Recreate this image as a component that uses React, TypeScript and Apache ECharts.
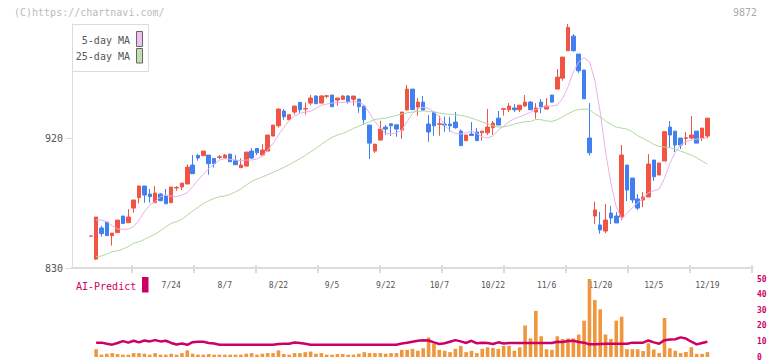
import React, { useEffect, useRef } from 'react';
import * as echarts from 'echarts';

const dates = [
  '7/2','7/3','7/4','7/7','7/8','7/9','7/10','7/11','7/14','7/15',
  '7/16','7/17','7/18','7/22','7/23','7/24','7/25','7/28','7/29','7/30',
  '7/31','8/1','8/4','8/5','8/6','8/7','8/8','8/12','8/13','8/14',
  '8/15','8/18','8/19','8/20','8/21','8/22','8/25','8/26','8/27','8/28',
  '8/29','9/1','9/2','9/3','9/4','9/5','9/8','9/9','9/10','9/11',
  '9/12','9/16','9/17','9/18','9/19','9/22','9/24','9/25','9/26','9/29',
  '9/30','10/1','10/2','10/3','10/6','10/7','10/8','10/9','10/10','10/14',
  '10/15','10/16','10/17','10/20','10/21','10/22','10/23','10/24','10/27','10/28',
  '10/29','10/30','10/31','11/4','11/5','11/6','11/7','11/10','11/11','11/12',
  '11/13','11/14','11/17','11/18','11/19','11/20','11/21','11/25','11/26','11/27',
  '11/28','12/1','12/2','12/3','12/4','12/5','12/8','12/9','12/10','12/11',
  '12/12','12/15','12/16','12/17','12/18','12/19'
];

const tickLabels = ['7/24','8/7','8/22','9/5','9/22','10/7','10/22','11/6','11/20','12/5','12/19'];

const opens = [
  852, 836.2, 857.7, 861.8, 852.4, 854.5, 866, 861.4, 871.5, 878.7,
  886.8, 881.2, 875.2, 881.2, 879.8, 875.2, 885.4, 886.1, 888.2, 901.3,
  908, 907.8, 908.2, 905.9, 906.6, 906.2, 908.9, 904.3, 899.5, 900.6,
  911, 912.8, 908.2, 911, 921.4, 928.5, 938.7, 932.7, 938, 944.7,
  940.1, 944.2, 949.1, 944.2, 948.9, 949.8, 946.3, 946.8, 949.1, 946.8,
  947, 942.2, 929, 911, 918.6, 927.6, 929.9, 929.2, 925.5, 939.4,
  953.9, 941.5, 944.9, 929.7, 938, 929.5, 929.7, 929.7, 931.1, 924.8,
  918.2, 922.8, 924.2, 923.7, 923.7, 927.2, 933.8, 939.9, 939.6, 940.8,
  939.6, 942.2, 944.9, 938, 944.9, 940.1, 949.8, 953.9, 961.5, 980.5,
  990.6, 978.2, 967.1, 920, 866, 859.8, 855.6, 868.1, 866, 865.3,
  901.3, 892.3, 877.8, 877.1, 879.2, 904.8, 894.4, 904.1, 927.6, 924.8,
  920, 919.8, 920, 924.8, 920, 921.4
];

const closes = [
  852.2, 865.3, 853.8, 852.4, 854.2, 863.2, 860.9, 865.3, 877.1, 886.8,
  880.5, 879.4, 881.9, 876.6, 874.5, 886.1, 885.8, 888.8, 899.9, 895.3,
  906.2, 911, 902.2, 902.2, 907, 908.2, 903.6, 901.5, 901.3, 910.3,
  906.2, 909.8, 911.7, 922.1, 929, 940.1, 934.8, 936.2, 942.2, 939.6,
  940.5, 947.7, 943.8, 949.1, 949.3, 941.7, 947.7, 949.1, 945.2, 949.1,
  941.7, 932.7, 916.5, 915.8, 926.2, 926.2, 928.5, 926.2, 938, 953.9,
  939.8, 944.9, 939.4, 924.2, 928.5, 929.9, 929, 928.5, 927.2, 914.7,
  922.1, 921.8, 918.2, 924.8, 927.6, 930.4, 929, 940.3, 942.2, 939.6,
  942.8, 944.9, 939.6, 940.8, 941.5, 942.2, 944.9, 962.2, 976.1, 996.6,
  980.5, 966.6, 947.2, 909.8, 870.2, 856.3, 863.2, 864.6, 861.2, 908.2,
  884, 877.1, 871.5, 879.2, 902, 893.2, 902.7, 924.4, 922.1, 915.2,
  915.2, 920.2, 922.1, 916.5, 926.9, 933.8
];

const lows = [
  852, 835.5, 851.7, 852.4, 845.5, 854.5, 860.5, 861.4, 868.3, 874.8,
  875.2, 875.2, 875.2, 876.6, 874.5, 875.2, 883.5, 884, 888.2, 895.3,
  904.3, 907.8, 894.6, 899.5, 905.5, 906.2, 903.6, 901.5, 899.5, 900.6,
  905.5, 908.2, 908.2, 911, 921.4, 927.2, 932.7, 932.7, 936.2, 937.5,
  936.2, 942.6, 943.8, 944.2, 947.7, 941.7, 942.4, 946.8, 943.8, 942.4,
  937.5, 929.2, 905.5, 909.8, 918.6, 922.1, 921.4, 920.9, 919.5, 939.4,
  939.4, 935.5, 939.4, 917.5, 921.6, 921.6, 924.4, 924.4, 926.5, 914.7,
  918.2, 921.8, 918.2, 918.2, 922.1, 922.1, 929, 935.5, 938, 938,
  938, 941.7, 939.6, 933.4, 937.3, 940.1, 944.5, 953.9, 959.7, 980.5,
  979.8, 965.2, 947.2, 908, 860.5, 853.8, 854.2, 860.5, 861.2, 863.2,
  876.4, 875, 870.2, 872.2, 879.2, 890.2, 894.4, 904.1, 913.3, 910.3,
  912.4, 915.2, 919.3, 916.5, 917.9, 920
];

const highs = [
  852.2, 865.3, 859.3, 861.8, 854.2, 863.2, 866, 870.8, 877.1, 886.8,
  886.8, 884.7, 886.8, 881.9, 884.7, 886.1, 886.8, 888.8, 901.8, 908.2,
  908.9, 911, 908.2, 905.9, 908.2, 908.9, 908.9, 908.2, 905.9, 910.3,
  913.1, 913.1, 915.8, 922.1, 929, 940.5, 940.1, 936.2, 942.2, 944.7,
  944.7, 949.8, 949.8, 949.8, 949.8, 949.8, 947.7, 949.8, 949.8, 949.1,
  947, 942.2, 929, 915.8, 932, 929, 929.9, 929.2, 938, 956.7,
  953.9, 947.7, 949.1, 935.9, 938, 935.5, 934.8, 934.8, 938, 926,
  922.1, 931.1, 926.9, 924.8, 940.1, 931.8, 938.7, 940.8, 944.2, 943.5,
  942.8, 949.8, 945.6, 944.2, 947, 947.7, 949.8, 967.8, 976.1, 998.9,
  992, 978.2, 967.1, 944.2, 875.9, 868.8, 874.3, 872.9, 868.8, 915.2,
  901.3, 892.3, 881.2, 882.6, 908.9, 904.8, 902.7, 924.8, 931.8, 924.8,
  920, 924.2, 935.2, 924.8, 926.9, 933.8
];

const ma5 = [
  null,
  863.2, 863.2, 862, 859.3, 857, 856.8, 857, 858.6, 863.2, 869,
  873.6, 875.9, 879.4, 880.5, 879.8, 879.4, 880.5, 882.2, 886.3, 890.9,
  894.8, 899, 902, 904.8, 905.7, 905.2, 904.8, 904.3, 904.8, 904.8,
  905.5, 907.5, 911.7, 916.3, 922.1, 927.4, 932, 935.2, 937.1, 938,
  938.5, 940.5, 942.8, 943.5, 944.2, 944.5, 944.7, 944.9, 945.2, 944.9,
  942.8, 937.1, 931.3, 926.7, 923.2, 922.8, 923.7, 925.5, 931.3, 937.1,
  940.5, 941.2, 940.5, 938.2, 934.8, 929, 925.1, 923.2, 922.8, 923.7,
  924.8, 923.2, 920.9, 920, 921.4, 925.5, 928.3, 931.3, 933.4, 934.8,
  936.2, 937.8, 939.8, 941.2, 941.9, 942.2, 942.8, 947.5, 955.5, 965.9,
  972.8, 975.6, 972.8, 960.2, 938.2, 910.5, 888.6, 872.5, 863.9, 867.8,
  871.7, 875.2, 878.2, 882.2, 883.5, 884.7, 892.1, 902.5, 910.1, 915.2,
  917.5, 918.6, 919.3, 919.8, 920.2
];

const ma25 = [
  null,
  837.8, 838.3, 839.7, 841.3, 842, 843.2, 844.8, 847.1, 848.2, 849.8,
  851.7, 853.5, 855.8, 858.6, 860.9, 862.1, 863.7, 866.7, 869.5, 872,
  874.8, 876.6, 878.2, 879.4, 879.8, 881, 882.8, 884.7, 887.5, 890,
  891.6, 893, 894.6, 896.2, 897.8, 899.7, 901.5, 903.6, 905.7, 908,
  910.5, 912.8, 915.6, 918.2, 920.5, 922.1, 923.2, 924.8, 926.7, 928.3,
  929.9, 931.3, 932.9, 933.4, 933.8, 934.8, 935.7, 936.6, 937.5, 938,
  938.5, 938.7, 938.5, 938, 937.3, 936.8, 936.4, 936.2, 935.7, 935,
  933.8, 932.5, 931.1, 929.9, 928.5, 927.6, 927.8, 928.5, 929.7, 930.6,
  931.3, 931.5, 932.9, 932.7, 931.8, 931.6, 932.7, 934.8, 936.8, 938.7,
  939.8, 940.1, 939.8, 936.8, 934.8, 931.8, 929.5, 927.6, 926.9, 926.2,
  924.4, 921.6, 919.8, 917.9, 915.6, 914.2, 913.8, 913.3, 912.4, 911,
  909.6, 908.2, 906.4, 904.1, 902
];

const aiBars = [
  null,
  5, 1.5, 2.1, 2.5, 1.9, 1.5, 1.5, 2.5, 2.5, 2.1,
  1.5, 2.5, 1.5, 1.5, 2.1, 1.5, 2.5, 4.2, 2.1, 1.5,
  1.5, 1.9, 1.5, 1.5, 1.5, 1.5, 1.5, 1.5, 2.1, 2.5,
  1.5, 2.1, 2.5, 2.5, 4.2, 1.9, 1.5, 2.5, 2.5, 3.1,
  3.5, 2.1, 2.5, 1.5, 1.5, 1.9, 1.9, 1.5, 1.5, 2.1,
  3.1, 2.5, 2.5, 2.5, 2.1, 2.5, 2.5, 4.6, 4.6, 5.2,
  4, 5.6, 12.5, 8.5, 4.6, 4, 3.1, 5.2, 7.1, 3.1,
  4, 2.5, 5.2, 6.2, 5.8, 5.2, 7.1, 7.1, 4, 6.2,
  20.2, 11.9, 29.6, 13.3, 5, 4.6, 13.3, 11.5, 11.9, 11.9,
  14.4, 23.3, 50, 36.5, 30.6, 14.4, 11.5, 23.3, 25.8, 5,
  5, 5, 3.8, 8.8, 4.8, 2.5, 25, 5.6, 4, 2.5,
  3.2, 6.3, 2, 2, 3.1
];

const aiLine = [
  null,
  9.2, 9.2, 8.5, 7.9, 9.0, 10.2, 9.2, 10.4, 9.4, 10.6,
  10.0, 10.8, 10.0, 10.4, 9.0, 8.0, 8.6, 7.8, 9.5, 9.8,
  9.8, 9.0, 8.6, 7.9, 7.9, 7.9, 7.9, 7.9, 7.9, 7.9,
  7.9, 7.9, 7.9, 7.9, 8.3, 8.5, 8.5, 9.3, 9.0, 8.5,
  7.9, 7.9, 7.9, 7.9, 7.9, 7.9, 7.9, 7.9, 7.9, 7.9,
  7.9, 7.9, 7.9, 7.9, 7.9, 7.9, 7.9, 8.6, 9.2, 9.8,
  10.4, 10.8, 10.6, 9.4, 8.3, 8.8, 9.8, 10.8, 10.0, 9.0,
  10.4, 8.8, 9.2, 9.0, 8.3, 9.4, 8.6, 9.0, 9.0, 9.0,
  9.0, 9.0, 9.0, 9.0, 9.0, 9.0, 9.8, 9.6, 10.2, 10.4,
  9.6, 9.2, 8.1, 8.1, 8.3, 8.5, 8.5, 8.5, 8.5, 8.5,
  9.2, 9.2, 9.2, 10.6, 9.4, 8.5, 10.8, 11.2, 11.4, 12.6,
  11.8, 9.8, 8.1, 9.0, 9.8
];

const PAD_BEFORE = 3;
const PAD_AFTER = 8;
const FONT = '"DejaVu Sans Mono", monospace';
const UP = '#f05444';
const DOWN = '#4080f0';
const CRIMSON = '#cc0066';
const AXIS_GRAY = '#dcdcdc';

export default function App() {
  const ref = useRef<HTMLDivElement>(null);

  useEffect(() => {
    document.body.style.margin = '0';
    const chart = echarts.init(ref.current!, null, { renderer: 'svg' });

    const cats = [
      ...Array.from({ length: PAD_BEFORE }, (_, k) => `pre${k}`),
      ...dates,
      ...Array.from({ length: PAD_AFTER }, (_, k) => `post${k}`),
    ];
    const pad = (arr: any[]) => [
      ...Array(PAD_BEFORE).fill('-'),
      ...arr.map((v) => (v === null ? '-' : v)),
      ...Array(PAD_AFTER).fill('-'),
    ];
    const candles = dates.map((_, i) => [opens[i], closes[i], lows[i], highs[i]]);
    const labelSet = new Set(tickLabels);

    const option: any = {
      animation: false,
      textStyle: { fontFamily: FONT },
      grid: [
        { left: 72, right: 19, top: 24, bottom: 93 },
        { left: 72, right: 19, top: 279, bottom: 2 },
        { left: 132, right: 20, top: 24, bottom: 96 },
      ],
      xAxis: [
        {
          type: 'category',
          gridIndex: 0,
          data: cats,
          boundaryGap: true,
          axisLine: { show: true, lineStyle: { color: AXIS_GRAY, width: 2 } },
          axisTick: { show: false },
          axisLabel: {
            interval: (_idx: number, value: string) => labelSet.has(value),
            color: '#555',
            fontSize: 8,
            fontFamily: FONT,
            margin: 13,
          },
          splitLine: { show: false },
        },
        {
          type: 'category',
          gridIndex: 1,
          data: cats,
          boundaryGap: true,
          show: false,
        },
        {
          type: 'value',
          gridIndex: 2,
          min: 0,
          max: 10,
          interval: 1,
          axisLine: { show: false },
          axisTick: { show: true, length: 8, lineStyle: { color: AXIS_GRAY, width: 2 } },
          axisLabel: { show: false },
          splitLine: { show: false },
        },
      ],
      yAxis: [
        {
          type: 'value',
          gridIndex: 0,
          min: 830,
          max: 999,
          axisLine: { show: true, lineStyle: { color: AXIS_GRAY, width: 1 } },
          axisTick: {
            show: true,
            customValues: [830, 920],
            length: 6,
            lineStyle: { color: AXIS_GRAY, width: 1 },
          },
          axisLabel: {
            customValues: [830, 920],
            color: '#555',
            fontSize: 10,
            fontFamily: FONT,
            margin: 9,
          },
          splitLine: { show: false },
        },
        {
          type: 'value',
          gridIndex: 1,
          position: 'right',
          min: 0,
          max: 50,
          interval: 10,
          axisLine: { show: false },
          axisTick: { show: false },
          axisLabel: {
            color: CRIMSON,
            fontSize: 8,
            fontWeight: 'bold',
            fontFamily: FONT,
            margin: 4,
          },
          splitLine: { show: false },
        },
        {
          type: 'value',
          gridIndex: 2,
          min: 0,
          max: 1,
          show: false,
        },
      ],
      series: [
        {
          type: 'candlestick',
          xAxisIndex: 0,
          yAxisIndex: 0,
          data: pad(candles),
          barWidth: 4,
          clip: false,
          itemStyle: {
            color: UP,
            color0: DOWN,
            borderColor: UP,
            borderColor0: DOWN,
            borderWidth: 1,
          },
        },
        {
          type: 'line',
          name: '5-day MA',
          xAxisIndex: 0,
          yAxisIndex: 0,
          data: pad(ma5),
          showSymbol: false,
          lineStyle: { color: '#e8b0e8', width: 1 },
          itemStyle: { color: '#e8b0e8' },
        },
        {
          type: 'line',
          name: '25-day MA',
          xAxisIndex: 0,
          yAxisIndex: 0,
          data: pad(ma25),
          showSymbol: false,
          lineStyle: { color: '#b0d8a0', width: 1 },
          itemStyle: { color: '#b0d8a0' },
        },
        {
          type: 'bar',
          xAxisIndex: 1,
          yAxisIndex: 1,
          data: pad(aiBars),
          barWidth: 3.6,
          itemStyle: { color: '#f0963c' },
        },
        {
          type: 'line',
          xAxisIndex: 1,
          yAxisIndex: 1,
          data: pad(aiLine),
          showSymbol: false,
          lineStyle: { color: CRIMSON, width: 2.5 },
          itemStyle: { color: CRIMSON },
        },
      ],
      graphic: [
        {
          type: 'text',
          x: 14,
          y: 12,
          style: {
            text: '(C)https://chartnavi.com/',
            fill: '#bbbbbb',
            font: `10px ${FONT}`,
            textAlign: 'left',
            verticalAlign: 'middle',
          },
        },
        {
          type: 'text',
          x: 757,
          y: 12,
          style: {
            text: '9872',
            fill: '#aaaaaa',
            font: `10px ${FONT}`,
            textAlign: 'right',
            verticalAlign: 'middle',
          },
        },
        {
          type: 'rect',
          shape: { x: 72.5, y: 24.5, width: 76, height: 47 },
          style: { fill: '#ffffff', stroke: AXIS_GRAY, lineWidth: 1 },
          z: 10,
        },
        {
          type: 'text',
          x: 130,
          y: 40.5,
          z: 11,
          style: {
            text: '5-day MA',
            fill: '#555',
            font: `10px ${FONT}`,
            textAlign: 'right',
            verticalAlign: 'middle',
          },
        },
        {
          type: 'text',
          x: 130,
          y: 56.5,
          z: 11,
          style: {
            text: '25-day MA',
            fill: '#555',
            font: `10px ${FONT}`,
            textAlign: 'right',
            verticalAlign: 'middle',
          },
        },
        {
          type: 'rect',
          z: 11,
          shape: { x: 136.5, y: 31.5, width: 6, height: 15 },
          style: { fill: '#f0c0f0', stroke: '#666', lineWidth: 1 },
        },
        {
          type: 'rect',
          z: 11,
          shape: { x: 136.5, y: 48.5, width: 6, height: 14.5 },
          style: { fill: '#c0e0b0', stroke: '#666', lineWidth: 1 },
        },
        {
          type: 'text',
          x: 76,
          y: 286,
          style: {
            text: 'AI-Predict',
            fill: CRIMSON,
            font: `10px ${FONT}`,
            textAlign: 'left',
            verticalAlign: 'middle',
          },
        },
        {
          type: 'rect',
          shape: { x: 142, y: 277, width: 6.5, height: 15.5 },
          style: { fill: CRIMSON },
        },
      ],
    };

    chart.setOption(option);
    return () => {
      chart.dispose();
    };
  }, []);

  return <div ref={ref} style={{ width: 772, height: 361 }} />;
}
